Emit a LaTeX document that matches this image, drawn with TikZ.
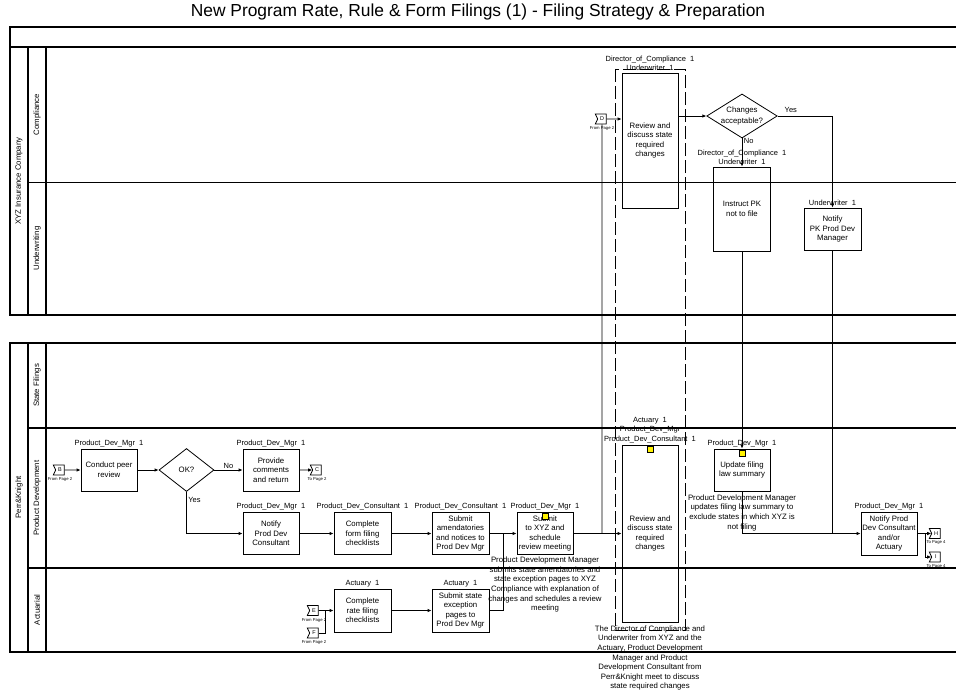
\documentclass[tikz,border=0pt]{standalone}
\usepackage{fontspec}
\setmainfont{Liberation Sans}
\usetikzlibrary{positioning,shapes.geometric,shapes.symbols,arrows.meta}

\begin{document}
\begin{tikzpicture}[x=1pt,y=-1pt,>={Latex[length=4pt,width=3.5pt]},
   pool/.style={line width=1.8pt},
   lane/.style={line width=0.9pt},
   task/.style={draw,line width=0.8pt,minimum width=56pt,minimum height=42pt,align=center,inner sep=1pt,font=\fontsize{7.8}{9.6}\selectfont},
   gate/.style={draw,diamond,line width=0.8pt,aspect=1.6,minimum width=55pt,minimum height=43pt,inner sep=0pt,align=center,font=\fontsize{7.8}{10.5}\selectfont},
   role/.style={inner sep=1.5pt,align=center,font=\fontsize{7.5}{9.5}\selectfont},
   note/.style={inner sep=1pt,align=center,font=\fontsize{7.8}{9.6}\selectfont},
   page/.style={draw,line width=0.8pt,shape=signal,signal from=west,signal to=nowhere,signal pointer angle=130,minimum width=11pt,minimum height=10pt,inner sep=0pt,font=\fontsize{5.5}{6}\selectfont},
   pagetxt/.style={inner sep=0pt,font=\fontsize{4.2}{5}\selectfont},
   flagbox/.style={draw,line width=0.6pt,fill=yellow,minimum size=6pt,inner sep=0pt},
   lanetxt/.style={rotate=90,font=\fontsize{7.8}{9}\selectfont},
   flow/.style={->,line width=0.8pt}]
   \useasboundingbox (0,0) rectangle (956,693);
   \node (title) at (478,12) {\fontsize{17.4}{20}\selectfont New Program Rate, Rule \& Form Filings (1) - Filing Strategy \& Preparation};

   \draw[pool] (956,27) -- (10,27) -- (10,315) -- (956,315);
   \draw[pool] (10,47) -- (956,47);
   \draw[pool] (28,47) -- (28,315) (46,47) -- (46,315);
   \draw[lane] (28,182) -- (956,182);
   \draw[pool] (956,343) -- (10,343) -- (10,652) -- (956,652);
   \draw[pool] (28,343) -- (28,652) (46,343) -- (46,652);
   \draw[pool] (28,428) -- (956,428) (28,568) -- (956,568);

   \node[lanetxt] (t_xyz) at (19,181) {XYZ Insurance Company};
   \node[lanetxt] (t_comp) at (37,114.5) {Compliance};
   \node[lanetxt] (t_uw) at (37,248.5) {Underwriting};
   \node[lanetxt] (t_pk) at (19,497.5) {Perr\&Knight};
   \node[lanetxt] (t_sf) at (37,385.5) {State Filings};
   \node[lanetxt] (t_pd) at (37,498) {Product Development};
   \node[lanetxt] (t_act) at (37,610) {Actuarial};

   \draw[line width=0.8pt,dash pattern=on 13pt off 4pt] (615,69) rectangle (685,630);

   \node[task,minimum height=135pt] (rev_top) at (650,140.5) {Review and\\discuss state\\required\\changes};
   \node[gate,minimum width=70pt] (chg) at (742,116) {Changes\\acceptable?};
   \node[task,minimum width=57pt,minimum height=84pt] (instr) at (742,209) {Instruct PK\\not to file};
   \node[task,minimum width=57pt] (ntf_pk) at (832.5,229) {Notify\\PK Prod Dev\\Manager};
   \node[task] (upd) at (742,470) {Update filing\\law summary};
   \node[task,minimum height=43pt] (ntf_ca) at (889,533.5) {Notify Prod\\Dev Consultant\\and/or\\Actuary};
   \node[task,minimum height=177pt] (rev_bot) at (650,533.5) {Review and\\discuss state\\required\\changes};
   \node[task] (peer) at (109,470) {Conduct peer\\review};
   \node[gate] (ok) at (186.5,470) {OK?};
   \node[task] (cmt) at (271,470) {Provide\\comments\\and return};
   \node[task] (ntf_pdc) at (271,533.5) {Notify\\Prod Dev\\Consultant};
   \node[task,minimum width=57pt] (form) at (362.5,533.5) {Complete\\form filing\\checklists};
   \node[task,minimum width=57pt] (amend) at (460.5,533.5) {Submit\\amendatories\\and notices to\\Prod Dev Mgr};
   \node[task] (sub_xyz) at (545,533.5) {Submit\\to XYZ and\\schedule\\review meeting};
   \node[task,minimum width=57pt,minimum height=43pt] (rate) at (362.5,610.5) {Complete\\rate filing\\checklists};
   \node[task,minimum width=57pt,minimum height=43pt] (exc) at (460.5,610.5) {Submit state\\exception\\pages to\\Prod Dev Mgr};

   \node[role,above=0pt of rev_top] (r_rev_top) {Director\_of\_Compliance~~1\\Underwriter~~1};
   \node[role,above=0pt of instr] (r_instr) {Director\_of\_Compliance~~1\\Underwriter~~1};
   \node[role,above=0pt of ntf_pk] (r_ntf_pk) {Underwriter~~1};
   \node[role,above=0pt of upd] (r_upd) {Product\_Dev\_Mgr~~1};
   \node[role,above=0pt of ntf_ca] (r_ntf_ca) {Product\_Dev\_Mgr~~1};
   \node[role,above=0pt of rev_bot] (r_rev_bot) {Actuary~~1\\Product\_Dev\_Mgr\\Product\_Dev\_Consultant~~1};
   \node[role,above=0pt of peer] (r_peer) {Product\_Dev\_Mgr~~1};
   \node[role,above=0pt of cmt] (r_cmt) {Product\_Dev\_Mgr~~1};
   \node[role,above=0pt of ntf_pdc] (r_ntf_pdc) {Product\_Dev\_Mgr~~1};
   \node[role,above=0pt of form] (r_form) {Product\_Dev\_Consultant~~1};
   \node[role,above=0pt of amend] (r_amend) {Product\_Dev\_Consultant~~1};
   \node[role,above=0pt of sub_xyz] (r_sub_xyz) {Product\_Dev\_Mgr~~1};
   \node[role,above=0pt of rate] (r_rate) {Actuary~~1};
   \node[role,above=0pt of exc] (r_exc) {Actuary~~1};

   \node[flagbox,below=1pt of rev_bot.north] (fl_rev) {};
   \node[flagbox,below=1pt of upd.north] (fl_upd) {};
   \node[flagbox,below=1pt of sub_xyz.north] (fl_xyz) {};

   \node[note,below=1pt of sub_xyz] (n_xyz) {Product Development Manager\\submits state amendatories and\\state exception pages to XYZ\\Compliance with explanation of\\changes and schedules a review\\meeting};
   \node[note,below=2pt of upd] (n_upd) {Product Development Manager\\updates filing law summary to\\exclude states in which XYZ is\\not filing};
   \node[note,below=2pt of rev_bot] (n_rev) {The Director of Compliance and\\Underwriter from XYZ and the\\Actuary, Product Development\\Manager and Product\\Development Consultant from\\Perr\&Knight meet to discuss\\state required changes};

   \node[page] (pg_d) at (602,119) {D};
   \node[page] (pg_b) at (60,470) {B};
   \node[page] (pg_c) at (317,470) {C};
   \node[page] (pg_e) at (314,610.5) {E};
   \node[page] (pg_f) at (314,633) {F};
   \node[page] (pg_h) at (936,533.5) {H};
   \node[page] (pg_i) at (936,557) {I};
   \node[pagetxt,below=2pt of pg_d] (p_d) {From Page 2};
   \node[pagetxt,below=2pt of pg_b] (p_b) {From Page 2};
   \node[pagetxt,below=2pt of pg_c] (p_c) {To Page 2};
   \node[pagetxt,below=2pt of pg_e] (p_e) {From Page 2};
   \node[pagetxt,below=2pt of pg_f] (p_f) {From Page 2};
   \node[pagetxt,below=2pt of pg_h] (p_h) {To Page 4};
   \node[pagetxt,below=2pt of pg_i] (p_i) {To Page 4};

   \coordinate (j_exc) at (503,533.5);
   \coordinate (j_ef) at (325,610.5);

   \draw[flow] (pg_d) -- (pg_d -| rev_top.west);
   \draw[line width=0.8pt] (pg_d) -- (pg_d |- rev_bot);
   \draw[flow] (sub_xyz) -- (rev_bot);
   \draw[flow] (rev_top.east |- chg) -- (chg);
   \draw[flow] (chg) -| node[role,pos=0.12,above=2pt] (l_yes) {Yes} (ntf_pk);
   \draw[flow] (chg) -- node[role,pos=0.1,right] (l_no) {No} (instr);
   \draw[flow] (instr) -- (upd);
   \draw[flow] (upd) |- (ntf_ca);
   \draw[line width=0.8pt] (ntf_pk) -- (ntf_pk |- ntf_ca);
   \draw[flow] (ntf_ca) -- (pg_h);
   \draw[flow] (ntf_ca.east) -- ++(8,0) |- (pg_i);

   \draw[flow] (pg_b) -- (peer);
   \draw[flow] (peer) -- (ok);
   \draw[flow] (ok) -- node[role,above] (l_no2) {No} (cmt);
   \draw[flow] (cmt) -- (pg_c);
   \draw[flow] (ok) |- node[role,pos=0.1,right] (l_yes2) {Yes} (ntf_pdc);
   \draw[flow] (ntf_pdc) -- (form);
   \draw[flow] (form) -- (amend);
   \draw[flow] (amend) -- (sub_xyz);
   \draw[line width=0.8pt] (exc) -| (j_exc);
   \draw[line width=0.8pt] (pg_e) -- (j_ef);
   \draw[line width=0.8pt] (pg_f) -| (j_ef);
   \draw[flow] (j_ef) -- (rate);
   \draw[flow] (rate) -- (exc);
\end{tikzpicture}
\end{document}
